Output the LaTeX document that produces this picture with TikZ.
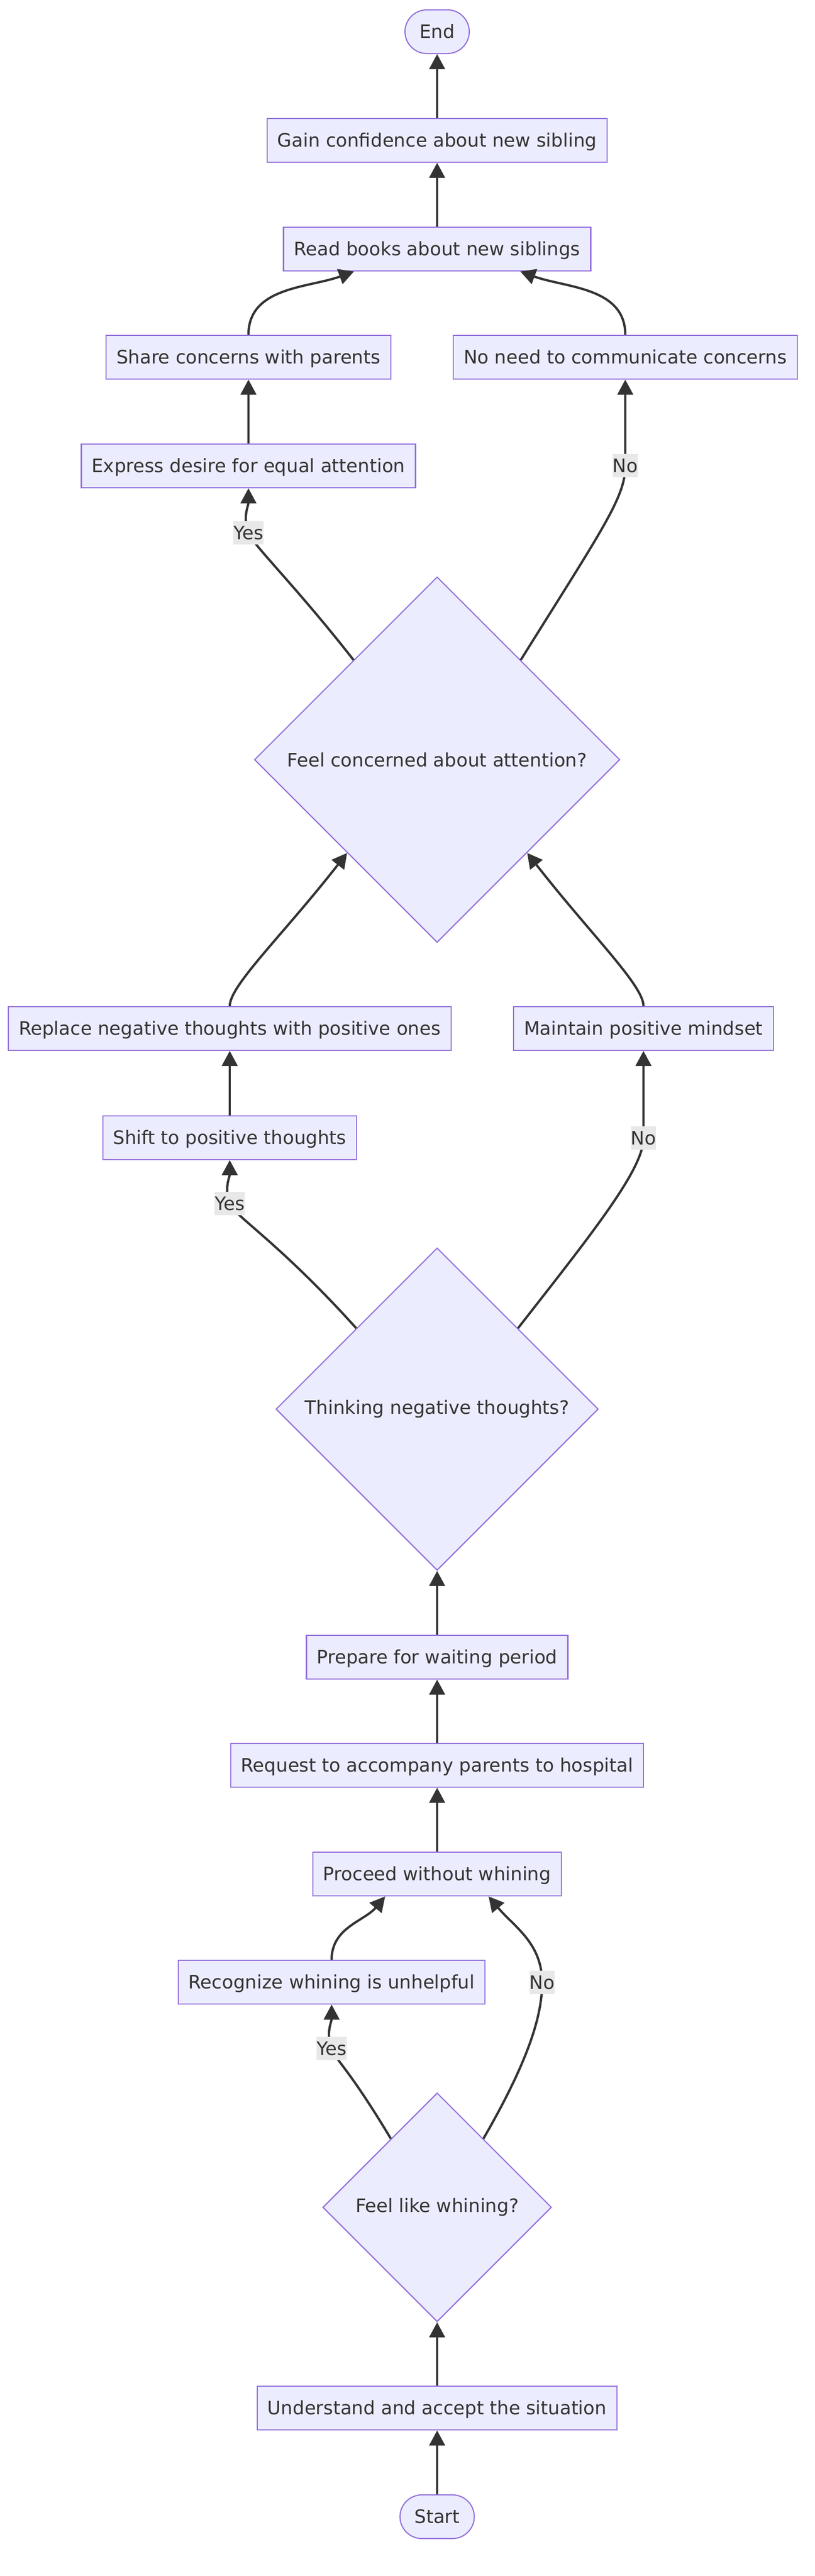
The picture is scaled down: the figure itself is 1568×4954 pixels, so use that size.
\documentclass[tikz,border=0pt]{standalone}
\usepackage{fontspec}
\setmainfont{DejaVu Sans}
\usepackage{xcolor}
\usepackage{tikz}
\usetikzlibrary{arrows.meta}
\usetikzlibrary{shapes.geometric}

\definecolor{nodefill}{HTML}{ECECFF}
\definecolor{nodeline}{HTML}{9370DB}
\definecolor{textgray}{HTML}{333333}
\definecolor{labelfill}{HTML}{E8E8E8}

\begin{document}
\begin{tikzpicture}[x = .5pt, y = .5pt,
    every node/.style = {text = textgray, font = \fontsize{17.8}{21}\selectfont},
    box/.style = {draw = nodeline, fill = nodefill, line width = 1.1pt,
        minimum height = 42pt, inner xsep = 10pt, inner ysep = 0pt,
        text height = 16.5pt, text depth = 4pt},
    term/.style = {box, rounded corners = 21pt, inner xsep = 14pt},
    decide/.style = {draw = nodeline, fill = nodefill, line width = 1.1pt,
        diamond, aspect = 1, inner sep = 0pt},
    flow/.style = {draw = textgray, line width = 2.2pt,
        -{Triangle[length = 14.5pt, width = 15pt]}},
    elabel/.style = {fill = labelfill, inner sep = 0pt, minimum height = 22.5pt,
        text height = 16.5pt, text depth = 4pt}]
    \useasboundingbox (0, 0) rectangle (1568, 4954);

    %% nodes
    \node[term] (start) at (841, 114) {Start};
    \node[box] (accept) at (841, 323) {Understand and accept the situation};
    \node[decide, minimum size = 220pt] (whine) at (841, 709) {Feel like whining?};
    \node[box] (unhelpful) at (638, 1142) {Recognize whining is unhelpful};
    \node[box] (proceed) at (841, 1350) {Proceed without whining};
    \node[box] (hospital) at (841, 1559) {Request to accompany parents to hospital};
    \node[box] (waiting) at (841, 1767) {Prepare for waiting period};
    \node[decide, minimum size = 310pt] (negative) at (841, 2244) {Thinking negative thoughts?};
    \node[box] (shift) at (442, 2766) {Shift to positive thoughts};
    \node[box] (replace) at (442, 2976) {Replace negative thoughts with positive ones};
    \node[box] (mindset) at (1238, 2976) {Maintain positive mindset};
    \node[decide, minimum size = 351.5pt] (concern) at (841, 3493) {Feel concerned about attention?};
    \node[box] (desire) at (478, 4058) {Express desire for equal attention};
    \node[box] (share) at (478, 4267) {Share concerns with parents};
    \node[box] (noneed) at (1203, 4267) {No need to communicate concerns};
    \node[box] (books) at (841, 4475) {Read books about new siblings};
    \node[box] (confidence) at (841, 4684) {Gain confidence about new sibling};
    \node[term] (end) at (841, 4893) {End};

    %% label points
    \coordinate (whineyes) at (638, 1014);
    \coordinate (whineno) at (1043, 1141);
    \coordinate (negyes) at (442, 2639);
    \coordinate (negno) at (1238, 2765);
    \coordinate (concernyes) at (478, 3929);
    \coordinate (concernno) at (1203, 4058);

    %% edges
    \draw[flow] (start) -- (accept);
    \draw[flow] (accept) -- (whine);
    \draw[flow] (whine.124) to[out = 121, in = -70, out distance = 80pt, in distance = 12pt] (whineyes)
        to[out = 110, in = -90] (unhelpful);
    \draw[flow] (whine.56) to[out = 60, in = -90, out distance = 90pt, in distance = 30pt] (whineno)
        to[out = 90, in = -50] ([xshift = 49.5pt]proceed.south);
    \draw[flow] (unhelpful) to[out = 90, in = -130] ([xshift = -50pt]proceed.south);
    \draw[flow] (proceed) -- (hospital);
    \draw[flow] (hospital) -- (waiting);
    \draw[flow] (waiting) -- (negative);
    \draw[flow] (negative.135) to[out = 132, in = -70, out distance = 110pt, in distance = 12pt] (negyes)
        to[out = 110, in = -90] (shift);
    \draw[flow] (negative.45) to[out = 52, in = -90, out distance = 115pt, in distance = 30pt] (negno)
        -- (mindset);
    \draw[flow] (shift) -- (replace);
    \draw[flow] (replace) to[out = 90, in = -128, out distance = 20pt, in distance = 100pt] (concern.226);
    \draw[flow] (mindset) to[out = 90, in = -52, out distance = 20pt, in distance = 100pt] (concern.-46);
    \draw[flow] (concern.130) to[out = 128, in = -70, out distance = 90pt, in distance = 12pt] (concernyes)
        to[out = 110, in = -90] (desire);
    \draw[flow] (concern.50) to[out = 58, in = -90, out distance = 150pt, in distance = 30pt] (concernno)
        -- (noneed);
    \draw[flow] (desire) -- (share);
    \draw[flow] (share) to[out = 90, in = -160] ([xshift = -80pt]books.south);
    \draw[flow] (noneed) to[out = 90, in = -20] ([xshift = 80pt]books.south);
    \draw[flow] (books) -- (confidence);
    \draw[flow] (confidence) -- (end);

    %% edge labels
    \node[elabel] (lblwhineyes) at (whineyes) {Yes};
    \node[elabel] (lblwhineno) at (whineno) {No};
    \node[elabel] (lblnegyes) at (negyes) {Yes};
    \node[elabel] (lblnegno) at (negno) {No};
    \node[elabel] (lblconcernyes) at (concernyes) {Yes};
    \node[elabel] (lblconcernno) at (concernno) {No};
\end{tikzpicture}
\end{document}
